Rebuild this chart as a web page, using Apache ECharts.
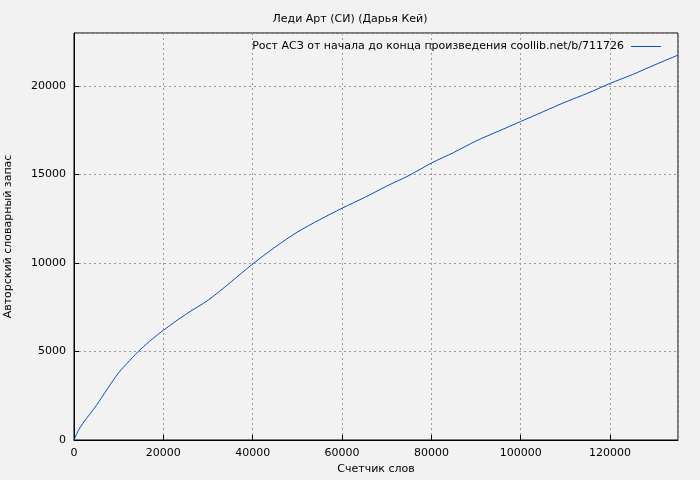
<!DOCTYPE html>
<html><head><meta charset="utf-8">
<script src="https://cdn.jsdelivr.net/npm/echarts@6/dist/echarts.min.js"></script>
<style>html,body{margin:0;background:#f2f2f2}#c{width:700px;height:480px}</style>
</head><body><div id="c"></div>
<script>
// счетчик слов (x) и словарный запас (y)
var words = [0, 1000, 2000, 3500, 5000, 7500, 10000, 12500, 15000, 17500, 20000, 25000, 30000, 35000, 40000, 45000, 50000, 55000, 60000, 65000, 70000, 75000, 80000, 85000, 90000, 95000, 100000, 105000, 110000, 115000, 120000, 125000, 130000, 135200];
var vocab = [0, 550, 950, 1450, 1950, 2900, 3800, 4500, 5150, 5700, 6200, 7100, 7900, 8900, 9950, 10900, 11750, 12450, 13100, 13700, 14350, 14950, 15650, 16250, 16900, 17450, 18000, 18550, 19100, 19600, 20150, 20650, 21200, 21750];
var seriesName = 'Рост АСЗ от начала до конца произведения coollib.net/b/711726';

var chart = echarts.init(document.getElementById('c'));
var pts = words.map(function (w, i) { return [w, vocab[i]]; });
var font = 'DejaVu Sans';
var plain = function (v) { return String(v); };
chart.setOption({
    backgroundColor: '#f2f2f2',
    animation: false,
    textStyle: { fontFamily: font },
    title: {
        text: 'Леди Арт (СИ) (Дарья Кей)',
        left: 'center', top: 9,
        textStyle: { fontSize: 11, fontWeight: 'normal', color: '#000', fontFamily: font }
    },
    legend: {
        data: [seriesName], right: 34, top: 36, itemWidth: 34, itemGap: 8,
        align: 'right', icon: 'path://M0,0H30V1H0Z', itemHeight: 1,
        textStyle: { fontSize: 11, color: '#000', fontFamily: font }
    },
    grid: { left: 74, right: 22, top: 33, bottom: 40, show: true, borderColor: '#000', borderWidth: 1, backgroundColor: 'transparent', containLabel: false, outerBoundsMode: 'none' },
    xAxis: {
        type: 'value', min: 0, max: 135200, interval: 20000,
        name: 'Счетчик слов', nameLocation: 'middle', nameGap: 24,
        nameTextStyle: { fontSize: 11, color: '#000' },
        axisLine: { lineStyle: { color: '#000' } },
        axisTick: { inside: true, lineStyle: { color: '#000' } },
        axisLabel: { fontSize: 11, color: '#000', showMaxLabel: false, formatter: plain },
        splitLine: { lineStyle: { color: '#999', type: [2, 3] } }
    },
    yAxis: {
        type: 'value', min: 0, max: 23000, interval: 5000,
        name: 'Авторский словарный запас', nameLocation: 'middle', nameGap: 60,
        nameTextStyle: { fontSize: 11, color: '#000' },
        axisLine: { show: true, lineStyle: { color: '#000' } },
        axisTick: { show: true, inside: true, lineStyle: { color: '#000' } },
        axisLabel: { fontSize: 11, color: '#000', showMaxLabel: false, formatter: plain },
        splitLine: { lineStyle: { color: '#999', type: [2, 3] } }
    },
    series: [{
        name: seriesName, type: 'line', data: pts, showSymbol: false, smooth: 0.3,
        lineStyle: { color: '#0b4fb5', width: 1 }, itemStyle: { color: '#0b4fb5' }
    }]
});
</script></body></html>
